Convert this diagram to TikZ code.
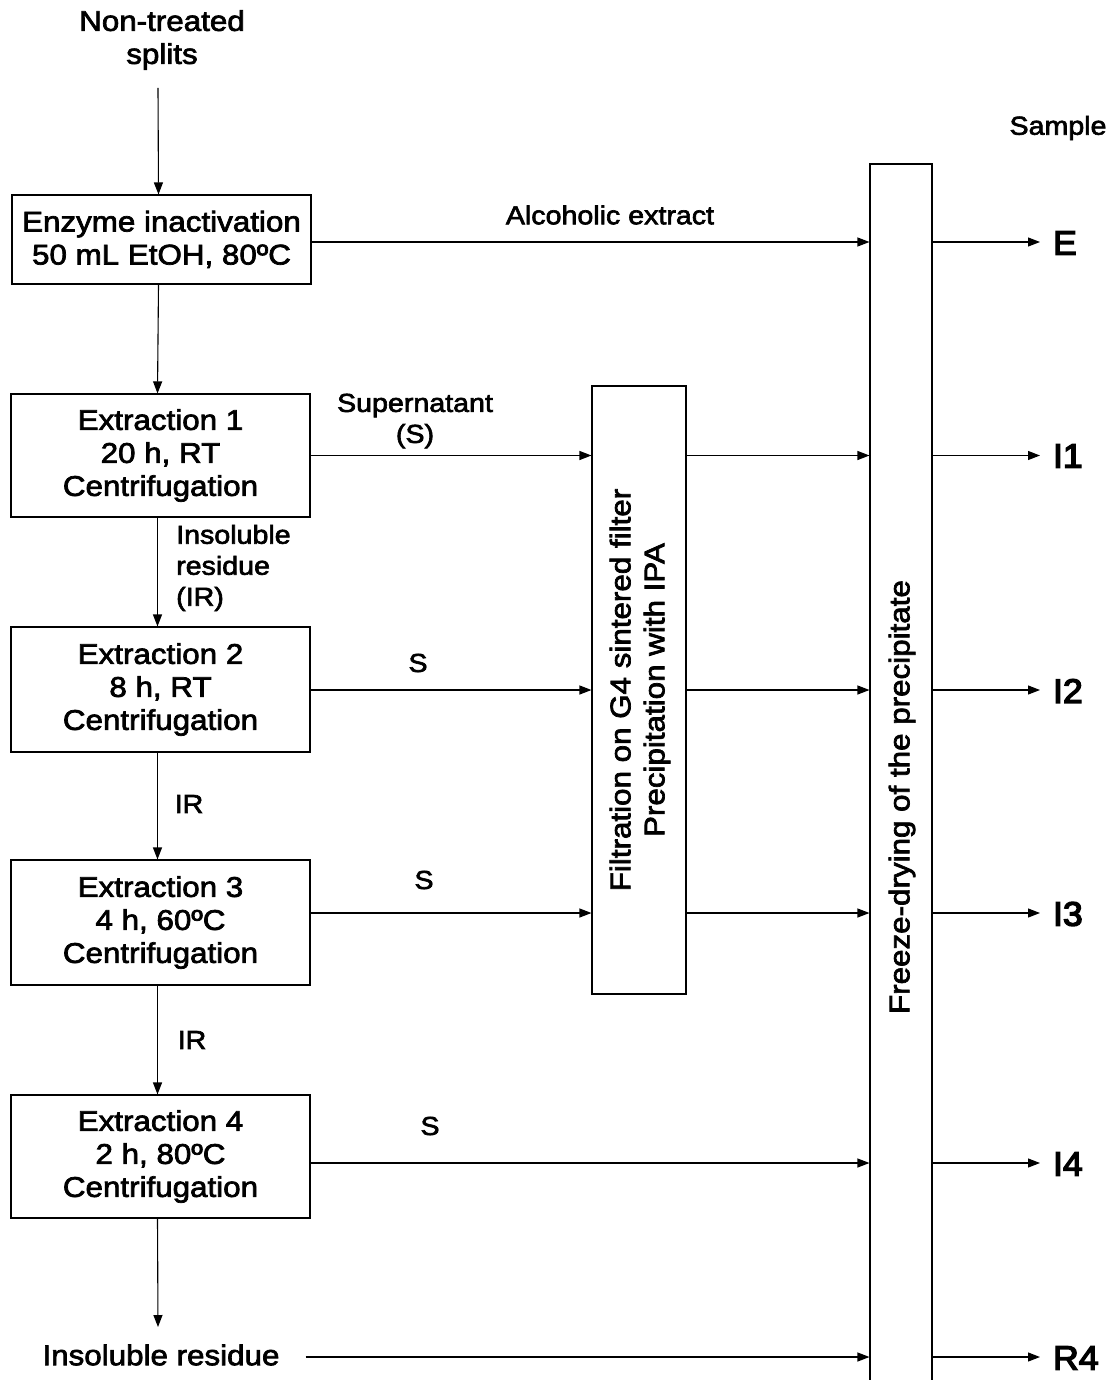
\documentclass[tikz,border=0pt]{standalone}
\usepackage{fontspec}
\setmainfont{Liberation Sans}[FakeStretch=1.1, FakeBold=2.5]
\newfontfamily\samplefont{Liberation Sans}[FakeStretch=1.05, FakeBold=4]
\usetikzlibrary{arrows.meta}

\begin{document}
\begin{tikzpicture}[x=1pt,y=-1pt,
  every node/.style={inner sep=0pt},
  proc/.style={draw, line width=1.1pt, minimum width=299pt, align=center,
    font=\fontsize{28.5}{33}\selectfont},
  big/.style={font=\fontsize{28.5}{33}\selectfont, align=center},
  lbl/.style={font=\fontsize{26}{31}\selectfont, align=center},
  outl/.style={font=\samplefont\fontsize{34}{38}\selectfont, anchor=west, outer xsep=13pt},
  tall/.style={draw, line width=1.1pt},
  flow/.style={-{Triangle[length=12pt,width=9pt]}, line width=1.1pt},
]
\useasboundingbox (0,0) rectangle (1116,1380);

% starting material
\node[big] (src) at (162,40) {Non-treated\\splits};
\coordinate (srcend) at (158,88);

% process steps
\node[proc, minimum height=89pt]  (b1) at (161.5,239.5)  {Enzyme inactivation\\50 mL EtOH, 80ºC};
\node[proc, minimum height=123pt] (b2) at (160.5,455.5)  {Extraction 1\\20 h, RT\\Centrifugation};
\node[proc, minimum height=125pt] (b3) at (160.5,689.5)  {Extraction 2\\8 h, RT\\Centrifugation};
\node[proc, minimum height=125pt] (b4) at (160.5,922.5)  {Extraction 3\\4 h, 60ºC\\Centrifugation};
\node[proc, minimum height=123pt] (b5) at (160.5,1156.5) {Extraction 4\\2 h, 80ºC\\Centrifugation};
\node[big] (res) at (161,1355) {Insoluble residue};

% filtration column and freeze-drying column
\node[tall, minimum width=94pt, minimum height=608pt] (flt) at (639,690) {};
\node[big, rotate=90, font=\fontsize{28.5}{34}\selectfont] (fltt) at (640,690)
  {Filtration on G4 sintered filter\\Precipitation with IPA};
\node[tall, minimum width=62pt, minimum height=1272pt] (fz) at (901,800) {};
\node[big, rotate=90] (fzt) at (902,797) {Freeze-drying of the precipitate};

% sample names
\node[lbl] (smp) at (1058,128) {Sample};
\node[outl] (oE)  at (1040,243)  {E};
\node[outl] (oI1) at (1040,456)  {I1};
\node[outl] (oI2) at (1040,691)  {I2};
\node[outl] (oI3) at (1040,914)  {I3};
\node[outl] (oI4) at (1040,1164) {I4};
\node[outl] (oR4) at (1040,1358) {R4};

% vertical chain
\draw[flow] (srcend) -- ([xshift=-3pt]b1.north);
\draw[flow] ([xshift=-3pt]b1.south) -- ([xshift=-3pt]b2.north);
\draw[flow] ([xshift=-3pt]b2.south) -- ([xshift=-3pt]b3.north);
\draw[flow] ([xshift=-3pt]b3.south) -- ([xshift=-3pt]b4.north);
\draw[flow] ([xshift=-3pt]b4.south) -- ([xshift=-3pt]b5.north);
\coordinate (resin) at (158,1327);
\draw[flow] ([xshift=-3pt]b5.south) -- (resin);

% labels on the vertical chain
\node[lbl, align=left, anchor=west] (ir1) at (176,568) {Insoluble\\residue\\(IR)};
\node[lbl] (ir2) at (189,804)  {IR};
\node[lbl] (ir3) at (192,1040) {IR};

% horizontal flows
\coordinate (e1) at ([yshift=-2.5pt]b1.east);
\coordinate (e2) at (b2.east);
\coordinate (e3) at ([yshift=-0.5pt]b3.east);
\coordinate (e4) at ([yshift=9.5pt]b4.east);
\coordinate (e5) at ([yshift=-6.5pt]b5.east);
\coordinate (e6) at ([xshift=26pt,yshift=-2pt]res.east);

\draw[flow] (e1) -- (e1 -| fz.west);
\draw[flow] (e2) -- (e2 -| flt.west);
\draw[flow] (e3) -- (e3 -| flt.west);
\draw[flow] (e4) -- (e4 -| flt.west);
\draw[flow] (e2 -| flt.east) -- (e2 -| fz.west);
\draw[flow] (e3 -| flt.east) -- (e3 -| fz.west);
\draw[flow] (e4 -| flt.east) -- (e4 -| fz.west);
\draw[flow] (e5) -- (e5 -| fz.west);
\draw[flow] (e6) -- (e6 -| fz.west);

\draw[flow] (e1 -| fz.east) -- (e1 -| oE.west);
\draw[flow] (e2 -| fz.east) -- (e2 -| oI1.west);
\draw[flow] (e3 -| fz.east) -- (e3 -| oI2.west);
\draw[flow] (e4 -| fz.east) -- (e4 -| oI3.west);
\draw[flow] (e5 -| fz.east) -- (e5 -| oI4.west);
\draw[flow] (e6 -| fz.east) -- (e6 -| oR4.west);

% labels on the horizontal flows
\node[lbl] (lae) at (610,215) {Alcoholic extract};
\node[lbl] (lsn) at (415,421) {Supernatant\\(S)};
\node[lbl] (ls2) at (418,663)  {S};
\node[lbl] (ls3) at (424,880)  {S};
\node[lbl] (ls4) at (430,1126) {S};
\end{tikzpicture}
\end{document}
